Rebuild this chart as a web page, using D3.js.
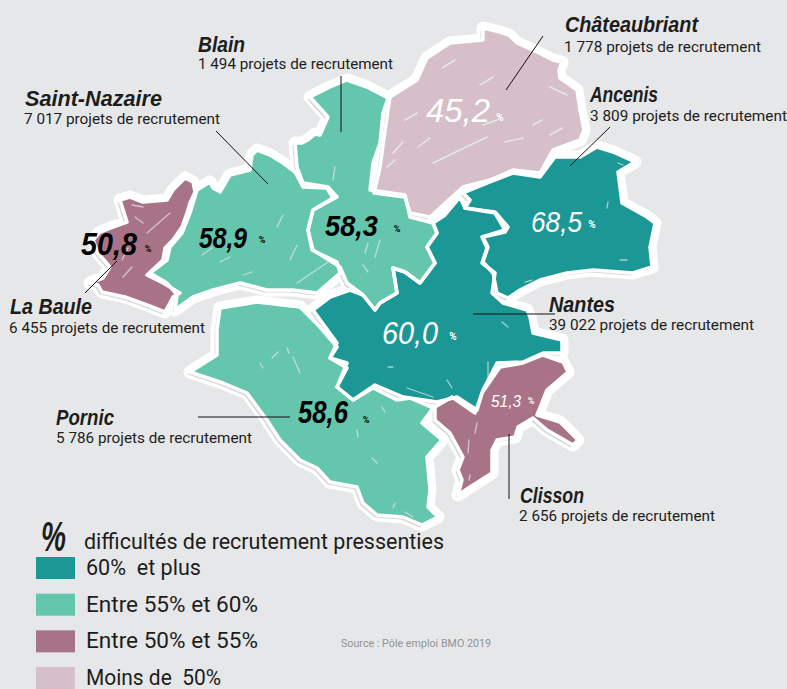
<!DOCTYPE html>
<html>
<head>
<meta charset="utf-8">
<script src="https://d3js.org/d3.v7.min.js"></script>
<style>
html, body { margin: 0; padding: 0; background: #e6e7e9; }
svg { display: block; }
text { font-family: Roboto, "Noto Sans", sans-serif; fill: #1d1d1b; }
.script { font-family: "Liberation Sans Narrow", "Liberation Sans", sans-serif; font-style: italic; font-weight: 700; }
</style>
</head>
<body>
<div id="chart"></div>
<script>
const width = 787;
const height = 689;

// values
const zones = ["Châteaubriant", "Ancenis", "Blain", "Saint-Nazaire", "La Baule", "Nantes", "Pornic", "Clisson"];
const difficulties = [45.2, 68.5, 58.3, 58.9, 50.8, 60.0, 58.6, 51.3];
const projects = ["1 778", "3 809", "1 494", "7 017", "6 455", "39 022", "5 786", "2 656"];

const legendLabels = ["60%  et plus", "Entre 55% et 60%", "Entre 50% et 55%", "Moins de  50%"];
const legendValues = [60, 55, 50, 45];

// zone outlines
const outlineChateaubriant = [[483,28],[500,32],[509,35],[517,43],[537,52],[553,60],[562,62],[559,70],[560,78],[570,85],[577,90],[580,110],[584,130],[580,140],[553,150],[540,173],[513,170],[490,180],[463,187],[430,217],[410,213],[405,197],[374,193],[380,167],[387,117],[390,97],[417,80],[427,58],[450,43],[483,40]];
const outlineAncenis = [[463,193],[490,182],[513,173],[540,177],[555,157],[580,157],[597,147],[613,152],[635,162],[618,172],[622,203],[647,217],[655,223],[650,247],[652,267],[633,273],[593,270],[567,273],[540,280],[520,290],[508,298],[497,293],[493,273],[483,262],[488,247],[483,237],[505,232],[508,227],[495,212],[465,208],[470,200]];
const outlineBlain = [[310,97],[330,87],[347,80],[367,87],[388,98],[383,113],[380,143],[373,163],[370,190],[405,195],[410,217],[433,223],[437,233],[427,247],[435,263],[420,283],[405,272],[393,268],[397,293],[380,303],[375,310],[363,295],[347,283],[340,267],[313,250],[308,230],[313,210],[337,197],[328,187],[303,183],[297,167],[295,143],[302,143],[308,140],[315,134],[320,135],[328,117]];
const outlineSaintNazaire = [[197,190],[210,182],[213,188],[220,192],[230,175],[250,170],[252,155],[257,150],[270,155],[283,163],[295,172],[303,187],[327,188],[333,198],[313,210],[308,230],[312,250],[337,262],[340,273],[317,293],[293,290],[267,290],[240,283],[213,290],[193,297],[175,310],[177,295],[167,283],[150,273],[167,260],[170,247],[182,233],[190,213]];
const outlineLaBaule = [[185,178],[193,182],[195,192],[190,203],[187,213],[182,227],[173,240],[165,248],[163,260],[147,275],[163,283],[180,293],[173,297],[165,312],[147,305],[125,297],[102,292],[98,285],[90,283],[103,278],[110,267],[98,253],[93,240],[100,232],[113,227],[127,222],[120,200],[130,197],[143,202],[167,200],[173,190]];
const outlineNantes = [[460,197],[465,208],[495,213],[505,230],[482,237],[487,248],[482,263],[495,273],[492,293],[503,303],[527,310],[530,317],[533,333],[562,340],[562,353],[543,353],[523,362],[497,363],[483,390],[477,410],[457,397],[437,402],[403,397],[375,385],[353,400],[337,387],[347,363],[330,358],[337,343],[313,310],[330,297],[350,290],[363,295],[375,310],[380,303],[397,293],[393,268],[405,272],[420,283],[435,263],[427,247],[437,233],[433,223],[445,215]];
const outlinePornic = [[220,308],[257,302],[300,307],[320,327],[337,347],[330,358],[347,368],[337,387],[353,400],[373,388],[397,400],[410,398],[433,408],[422,423],[442,440],[427,457],[430,490],[428,507],[438,517],[422,525],[403,517],[377,515],[363,503],[357,487],[330,482],[317,468],[300,460],[280,440],[267,420],[247,393],[223,383],[190,372],[217,355],[217,330]];
const outlineClisson = [[543,355],[563,362],[568,372],[547,390],[537,415],[560,422],[578,440],[573,445],[547,430],[533,418],[518,427],[515,437],[497,440],[492,450],[492,473],[470,487],[458,495],[462,480],[458,470],[463,457],[450,433],[435,420],[435,407],[452,397],[475,413],[482,393],[500,367],[523,363]];
const outlines = [outlineChateaubriant, outlineAncenis, outlineBlain, outlineSaintNazaire, outlineLaBaule, outlineNantes, outlinePornic, outlineClisson];

// pen scratches inside each zone
const scratchesPale = [[[433,163],[487,137]],[[505,142],[523,138]],[[550,135],[562,128]],[[393,153],[403,142]],[[442,68],[455,60]],[[480,85],[493,77]],[[405,120],[417,113]],[[418,147],[430,138]],[[387,167],[395,160]],[[533,125],[542,120]],[[483,125],[497,120]],[[550,87],[567,95]]];
const scratchesWhite = [[[147,233],[170,213]],[[132,205],[143,207]],[[135,217],[143,223]],[[122,260],[128,248]],[[123,277],[132,267]],
  [[277,227],[283,215]],[[297,283],[328,262]],[[290,260],[297,245]],[[202,255],[212,248]],[[243,275],[252,272]],[[220,262],[230,257]],
  [[333,180],[335,167]],[[375,257],[380,240]],[[365,253],[368,243]],[[363,265],[368,272]],
  [[488,377],[488,362]],[[407,388],[433,397]],[[447,380],[452,388]],[[388,367],[393,367]],[[502,322],[508,327]],
  [[618,163],[623,165]],[[608,202],[607,208]],[[620,260],[627,260]],[[525,282],[532,280]],
  [[272,358],[278,352]],[[293,357],[300,373]],[[287,348],[289,353]],[[260,363],[263,368]],[[372,458],[377,463]],[[395,503],[393,508]],[[405,512],[413,517]],[[382,407],[385,412]],[[357,430],[358,437]],
  [[477,423],[475,433]],[[469,440],[468,453]],[[470,475],[469,480]]];

// leader lines, one per zone
const leaders = [[[543,36],[506,90]],[[610,127],[570,166]],[[341,76],[341,132]],[[216,131],[268,184]],[[117,261],[85,293]],[[473,314],[555,314]],[[198,417],[290,417]],[[509,434],[509,499]]];

// layout of the labels, same order as zones
const nameAt = [[565,32,133],[590,102,68],[198,52,47],[25,106,137],[10,314,82],[549,312,66],[56,425,58],[520,503,64]];
const countAt = [[564,52,197],[590,121,197],[198,69,195],[24,124,196],[9,333,196],[549,330,205],[56,443,196],[519,521,196]];
const valueAt = [[426,122,64,33,"#fff",500,121,10],[531,232,51,30,"#fff",592,228,10],[325,236,53,30,"#000",397,232,9],[199,248,48,30,"#000",262,243,9],[81,255,56,31,"#000",148,252,9],[382,344,56,32,"#fff",453,340,10],[298,423,50,31,"#000",366,423,9],[491,407,30,16,"#fff",531,404,9]];

const color = d3.scaleThreshold().domain([50, 55, 60]).range(["#d6bfc8", "#a87287", "#65c6ae", "#1b9896"]);
const path = d3.geoPath(d3.geoIdentity());
const ring = pts => ({ type: "Polygon", coordinates: [pts.concat([pts[0]])] });
const stroke = pts => ({ type: "LineString", coordinates: pts });

let svg = d3.select("#chart").append("svg").attr("width", width).attr("height", height);

// white halo first, then a faint grey offset, fills on top, then the white borders
let map = svg.append("g");
map.selectAll(".halo").data(outlines).join("path").attr("class", "halo")
  .attr("d", d => path(ring(d))).attr("fill", "#fff").attr("stroke", "#fff")
  .attr("stroke-width", 13).attr("stroke-linejoin", "round");
map.selectAll(".shadow").data(outlines).join("path").attr("class", "shadow")
  .attr("d", d => path(ring(d))).attr("fill", "#d8d9db").attr("transform", "translate(-2.5,2.5)");
map.selectAll(".zone").data(outlines).join("path").attr("class", "zone")
  .attr("d", d => path(ring(d))).attr("fill", (d, i) => color(difficulties[i]));
map.selectAll(".border").data(outlines).join("path").attr("class", "border")
  .attr("d", d => path(ring(d))).attr("fill", "none").attr("stroke", "#fff")
  .attr("stroke-width", 3.5).attr("stroke-linejoin", "round");

map.selectAll(".scratch-pale").data(scratchesPale).join("path").attr("class", "scratch-pale")
  .attr("d", d => path(stroke(d))).attr("stroke", "#e6e7e9").attr("stroke-width", 1.5).attr("stroke-linecap", "round");
map.selectAll(".scratch").data(scratchesWhite).join("path").attr("class", "scratch")
  .attr("d", d => path(stroke(d))).attr("stroke", "#e6e7e9").attr("stroke-opacity", 0.7).attr("stroke-width", 1.3).attr("stroke-linecap", "round");

svg.selectAll(".leader").data(leaders).join("path").attr("class", "leader")
  .attr("d", d => path(stroke(d))).attr("fill", "none").attr("stroke", "#111").attr("stroke-width", 1);

// labels
svg.selectAll(".name").data(zones).join("text").attr("class", "name script")
  .attr("x", (d, i) => nameAt[i][0]).attr("y", (d, i) => nameAt[i][1])
  .attr("textLength", (d, i) => nameAt[i][2]).attr("lengthAdjust", "spacingAndGlyphs")
  .attr("font-size", 22).text(d => d);
svg.selectAll(".count").data(projects).join("text").attr("class", "count")
  .attr("x", (d, i) => countAt[i][0]).attr("y", (d, i) => countAt[i][1])
  .attr("textLength", (d, i) => countAt[i][2]).attr("lengthAdjust", "spacingAndGlyphs")
  .attr("font-size", 14.5).text(d => d + " projets de recrutement");

const comma = d3.format(".1f");
svg.selectAll(".value").data(difficulties).join("text").attr("class", "value script")
  .attr("x", (d, i) => valueAt[i][0]).attr("y", (d, i) => valueAt[i][1])
  .attr("textLength", (d, i) => valueAt[i][2]).attr("lengthAdjust", "spacingAndGlyphs")
  .attr("font-size", (d, i) => valueAt[i][3]).style("fill", (d, i) => valueAt[i][4])
  .style("font-weight", (d, i) => valueAt[i][4] === "#fff" ? 400 : 700)
  .text(d => comma(d).replace(".", ","));
svg.selectAll(".pct").data(difficulties).join("text").attr("class", "pct")
  .attr("x", (d, i) => valueAt[i][5]).attr("y", (d, i) => valueAt[i][6])
  .attr("text-anchor", "middle").attr("font-size", (d, i) => valueAt[i][7]).attr("font-weight", 700)
  .style("fill", (d, i) => valueAt[i][4]).text("%");

// legend
svg.append("text").attr("class", "script").attr("x", 41).attr("y", 551)
  .attr("font-size", 42).attr("textLength", 25).attr("lengthAdjust", "spacingAndGlyphs").text("%");
svg.append("text").attr("x", 84).attr("y", 549).attr("font-size", 21.5)
  .attr("textLength", 360).attr("lengthAdjust", "spacingAndGlyphs").text("difficultés de recrutement pressenties");

const legendY = d3.scalePoint().domain(legendLabels).range([557, 667]);
const legendWidth = [115, 172, 172, 135];
svg.selectAll(".swatch").data(legendLabels).join("rect").attr("class", "swatch")
  .attr("x", 36).attr("y", d => legendY(d)).attr("width", 39).attr("height", 22)
  .attr("fill", (d, i) => color(legendValues[i]));
svg.selectAll(".legend-label").data(legendLabels).join("text").attr("class", "legend-label")
  .attr("x", 86).attr("y", d => legendY(d) + 18).attr("font-size", 21.5)
  .attr("textLength", (d, i) => legendWidth[i]).attr("lengthAdjust", "spacingAndGlyphs")
  .style("white-space", "pre").text(d => d);

svg.append("text").attr("x", 341).attr("y", 647).attr("font-size", 11)
  .attr("textLength", 150).attr("lengthAdjust", "spacingAndGlyphs").style("fill", "#939393")
  .text("Source : Pôle emploi BMO 2019");
</script>
</body>
</html>
